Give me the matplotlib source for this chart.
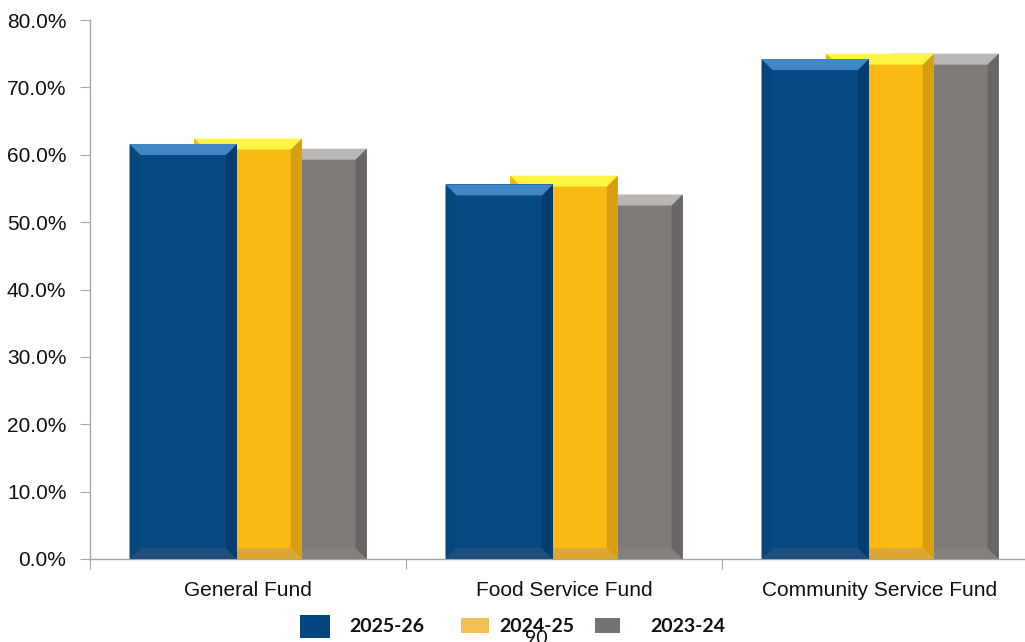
import numpy as np
import matplotlib.pyplot as plt
from matplotlib.patches import Polygon, Rectangle
from matplotlib.ticker import FuncFormatter

categories = ["General Fund", "Food Service Fund", "Community Service Fund"]
series = ["2025-26", "2024-25", "2023-24"]
values = {
    "2025-26": [61.6, 55.6, 74.2],
    "2024-25": [62.4, 56.9, 75.0],
    "2023-24": [60.9, 54.1, 75.0],
}

# face, top bevel, right bevel, bottom bevel, left bevel, legend swatch
colors = {
    "2025-26": ("#054a82", "#3f88c5", "#033d6f", "#1c4f7e", "#04477d", "#03467f"),
    "2024-25": ("#fbb914", "#fdf443", "#d79e10", "#dba92f", "#f4b414", "#f2c155"),
    "2023-24": ("#7f7a78", "#bab6b4", "#6a6665", "#84807e", "#7a7674", "#767270"),
}

W, H = 1025, 642
fig = plt.figure(figsize=(W / 100, H / 100), dpi=100)
ax_left, ax_right, ax_top, ax_bottom = 90, 1038, 20, 559
ax = fig.add_axes([ax_left / W, 1 - ax_bottom / H,
                   (ax_right - ax_left) / W, (ax_bottom - ax_top) / H])
ax.set_xlim(-0.5, len(categories) - 0.5)
ax.set_ylim(0, 80)

# bevel size in pixels -> data units
px_x = (ax_right - ax_left) / len(categories)
px_y = (ax_bottom - ax_top) / 80
bx, by = 11 / px_x, 11 / px_y

x = np.arange(len(categories))
width = 0.34
offsets = [-0.205, 0.0, 0.205]

# draw back to front: last series at the back
for k in reversed(range(len(series))):
    name = series[k]
    face, top, right, bottom, left, _ = colors[name]
    z = 10 - 2 * k
    bars = ax.bar(x + offsets[k], values[name], width, color=face,
                  zorder=z, linewidth=0)
    for b in bars:
        x0, x1, h = b.get_x(), b.get_x() + b.get_width(), b.get_height()
        polys = [
            ([(x0, 0), (x0, h), (x0 + bx, h - by), (x0 + bx, by)], left),
            ([(x0, 0), (x1, 0), (x1 - bx, by), (x0 + bx, by)], bottom),
            ([(x1, h), (x1, 0), (x1 - bx, by), (x1 - bx, h - by)], right),
            ([(x0, h), (x1, h), (x1 - bx, h - by), (x0 + bx, h - by)], top),
        ]
        for pts, c in polys:
            ax.add_patch(Polygon(pts, closed=True, facecolor=c,
                                 edgecolor="none", zorder=z + 0.5))

ax.set_yticks(np.arange(0, 81, 10))
ax.yaxis.set_major_formatter(FuncFormatter(lambda v, _: f"{v:.1f}%"))
ax.set_xticks(np.arange(-0.5, len(categories), 1.0))
ax.set_xticklabels([])
ax.set_xticks(x, minor=True)
ax.set_xticklabels(categories, minor=True)
ax.tick_params(axis="x", which="minor", length=0, pad=16, labelsize=15,
               labelcolor="#111111")
ax.tick_params(axis="x", which="major", length=7, color="#a6a6a6")
ax.tick_params(axis="y", length=7, color="#a6a6a6", pad=10, labelsize=15,
               labelcolor="#111111")
for lbl in ax.get_xticklabels(minor=True) + ax.get_yticklabels():
    lbl.set_family(["Liberation Sans", "DejaVu Sans"])
for s in ["top", "right"]:
    ax.spines[s].set_visible(False)
for s in ["left", "bottom"]:
    ax.spines[s].set_color("#a6a6a6")
    ax.spines[s].set_linewidth(1.0)

# legend at bottom
swatches = [(300, 615, 30, 23), (461, 618, 28, 15), (595, 618, 25, 15)]
text_x = [349, 499, 650]
for name, (sx, sy, sw, sh), tx in zip(series, swatches, text_x):
    fig.patches.append(Rectangle((sx / W, 1 - (sy + sh) / H), sw / W, sh / H,
                                 transform=fig.transFigure,
                                 facecolor=colors[name][5], edgecolor="none"))
    fig.text(tx / W, 1 - 626 / H, name, fontsize=14, fontweight="bold",
             family=["Lato", "DejaVu Sans"], color="#111111",
             ha="left", va="center")

# page number from the source document, partly cut off at the bottom edge
fig.text(536 / W, 1 - 630 / H, "90", fontsize=14,
         family=["Lato", "DejaVu Sans"], color="#111111", ha="center", va="top")

fig.savefig("out.png", dpi=100)
